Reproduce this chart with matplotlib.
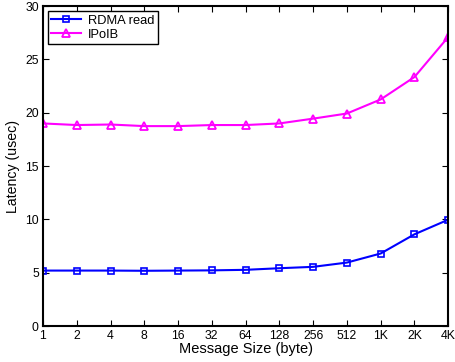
import numpy as np
import matplotlib
matplotlib.use("Agg")
from matplotlib import pyplot as plt

sizes = ["1", "2", "4", "8", "16", "32", "64", "128", "256", "512", "1K", "2K", "4K"]
rdma_read = [5.2, 5.2, 5.2, 5.18, 5.2, 5.22, 5.27, 5.42, 5.55, 5.95, 6.8, 8.6, 9.97]
ipoib = [19.0, 18.85, 18.9, 18.75, 18.75, 18.85, 18.85, 19.0, 19.45, 19.93, 21.25, 23.35, 27.1]

plt.rcParams['font.family'] = ['Liberation Sans', 'DejaVu Sans']
plt.rcParams['font.size'] = 10.5

fig = plt.figure(figsize=(4.55, 3.62), dpi=100)
ax = fig.add_axes([0.0945, 0.0994, 0.8905, 0.8836])

x = np.arange(len(sizes))
ax.plot(x, rdma_read, color='blue', marker='s', markersize=4.5, markerfacecolor='none',
        markeredgewidth=1.2, linewidth=1.5, label='RDMA read')
ax.plot(x, ipoib, color='magenta', marker='^', markersize=6, markerfacecolor='none',
        markeredgewidth=1.3, linewidth=1.5, label='IPoIB')

ax.set_xlim(0, len(sizes) - 1)
ax.set_ylim(0, 30)
ax.set_xticks(x)
ax.set_xticklabels(sizes)
ax.set_yticks([0, 5, 10, 15, 20, 25, 30])
ax.tick_params(direction='in', top=True, right=True, length=4, pad=3, labelsize=8.8)
for s in ax.spines.values():
    s.set_linewidth(1.5)

ax.set_xlabel('Message Size (byte)', fontsize=10.5, labelpad=0)
ax.set_ylabel('Latency (usec)', fontsize=10.2, labelpad=4)

leg = ax.legend(loc='upper left', fancybox=False, framealpha=1, edgecolor='black',
                fontsize=9.3, borderpad=0.3, labelspacing=0.15, handlelength=2.3,
                handletextpad=0.5, borderaxespad=0.35)
leg.get_frame().set_linewidth(1.0)

fig.savefig('out.png', dpi=100)
